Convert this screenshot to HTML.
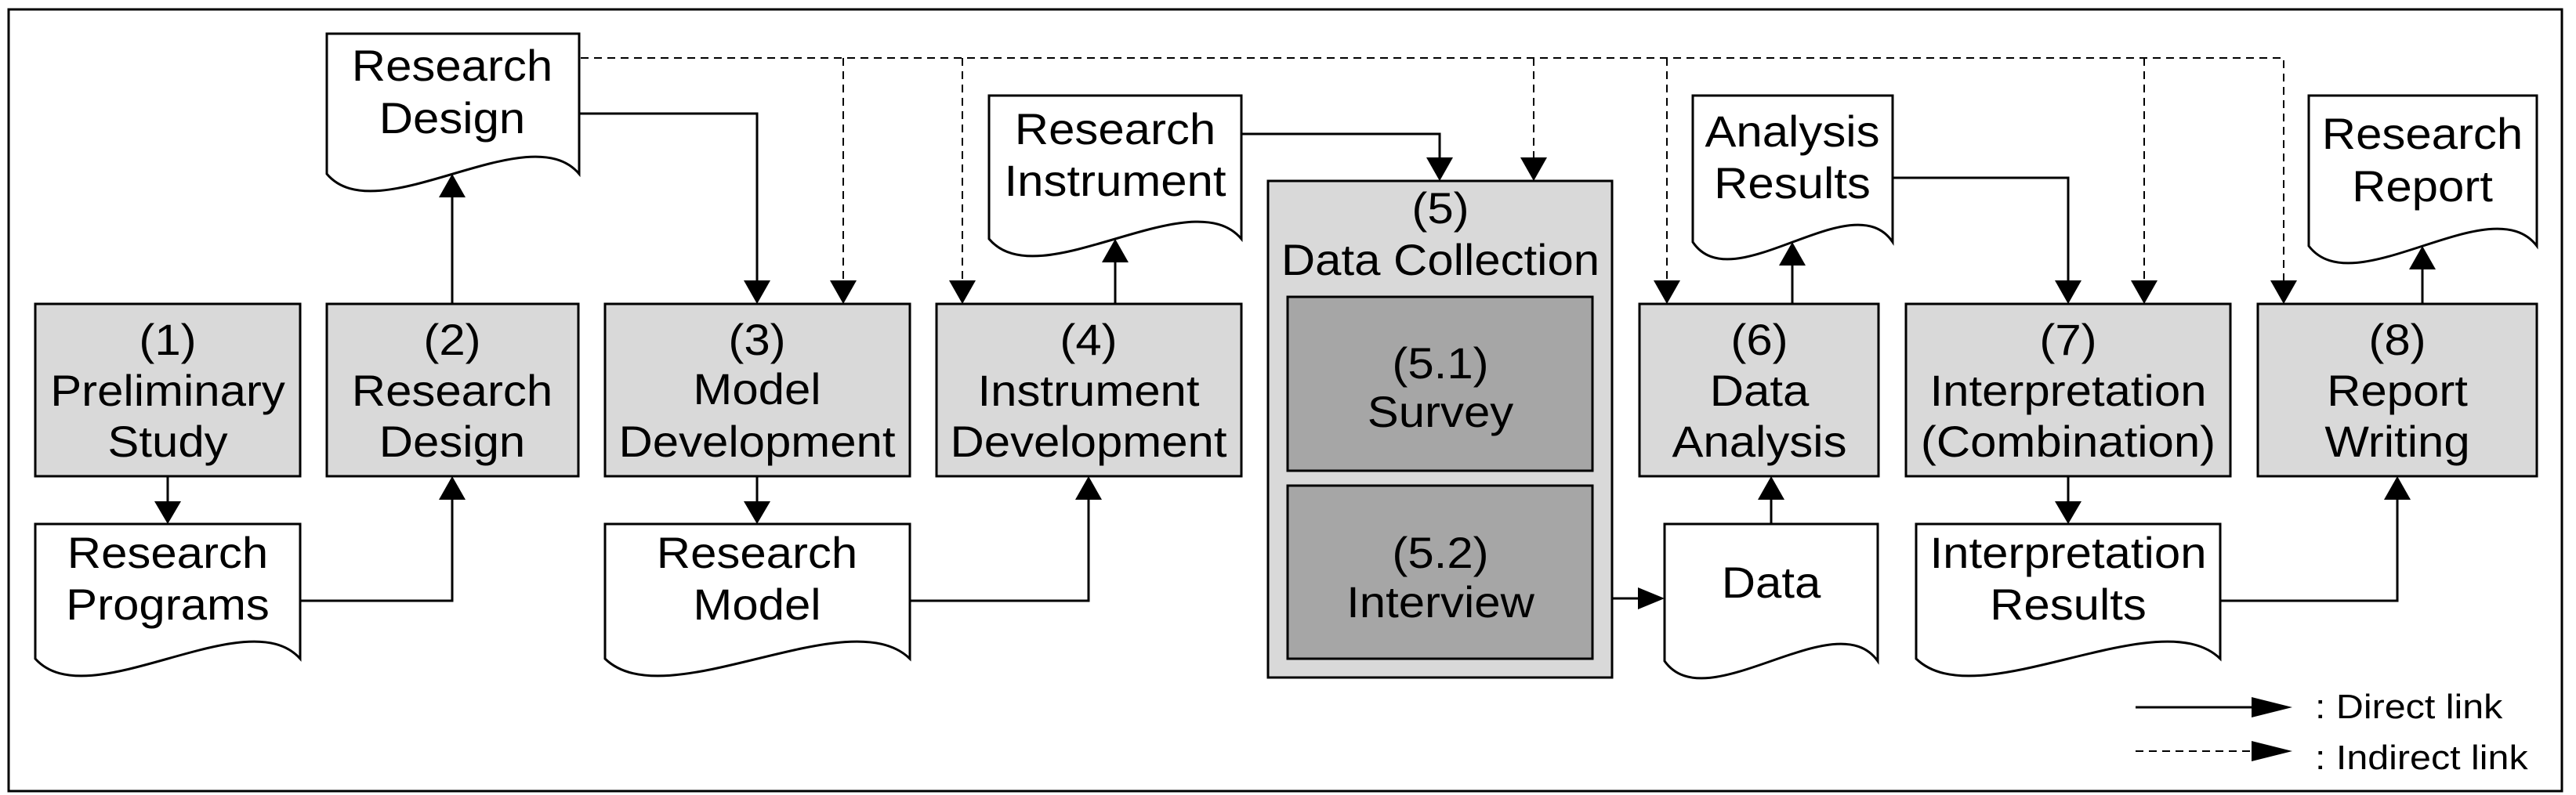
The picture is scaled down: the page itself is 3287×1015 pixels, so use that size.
<!DOCTYPE html>
<html><head><meta charset="utf-8"><style>
html,body{margin:0;padding:0;background:#fff}
svg{display:block}
text{font-family:"Liberation Sans",Arial,sans-serif;font-size:56px;fill:#000;text-anchor:middle}
.lg{font-size:44px;text-anchor:start}
</style></head><body>
<svg width="3287" height="1015" viewBox="0 0 3287 1015" xmlns="http://www.w3.org/2000/svg">
<rect x="0" y="0" width="3287" height="1015" fill="#fff"/>
<rect x="11" y="12" width="3258" height="998" fill="none" stroke="#000" stroke-width="3"/>

<g stroke="#000" stroke-width="3">
<rect x="45" y="388" width="338" height="220" fill="#d9d9d9"/>
<rect x="417" y="388" width="321" height="220" fill="#d9d9d9"/>
<rect x="772" y="388" width="389" height="220" fill="#d9d9d9"/>
<rect x="1195" y="388" width="389" height="220" fill="#d9d9d9"/>
<rect x="1618" y="231" width="439" height="634" fill="#d9d9d9"/>
<rect x="1643" y="379" width="389" height="222" fill="#a6a6a6"/>
<rect x="1643" y="620" width="389" height="221" fill="#a6a6a6"/>
<rect x="2092" y="388" width="305" height="220" fill="#d9d9d9"/>
<rect x="2432" y="388" width="414" height="220" fill="#d9d9d9"/>
<rect x="2881" y="388" width="356" height="220" fill="#d9d9d9"/>
</g>

<g stroke="#000" stroke-width="3" fill="#fff">
<path d="M417 43 H739 V222 C675 146 481 298 417 222 Z"/>
<path d="M1262 122 H1584 V305 C1520 229 1326 381 1262 305 Z"/>
<path d="M45 669 H383 V841 C315 765 113 917 45 841 Z"/>
<path d="M772 669 H1161 V841 C1083 765 850 917 772 841 Z"/>
<path d="M2160 122 H2415 V309 C2364 233 2211 385 2160 309 Z"/>
<path d="M2124 669 H2396 V844 C2342 768 2178 920 2124 844 Z"/>
<path d="M2445 669 H2833 V841 C2755 765 2523 917 2445 841 Z"/>
<path d="M2946 122 H3237 V314 C3179 238 3004 390 2946 314 Z"/>
</g>

<g stroke="#000" stroke-width="3" fill="none">
<polyline points="214,608 214,640"/>
<polyline points="383,767 577,767 577,638"/>
<polyline points="577,388 577,252"/>
<polyline points="739,145 966,145 966,358"/>
<polyline points="966,608 966,640"/>
<polyline points="1161,767 1389,767 1389,638"/>
<polyline points="1423,388 1423,335"/>
<polyline points="1584,171 1837,171 1837,201"/>
<polyline points="2287,388 2287,339"/>
<polyline points="2260,669 2260,638"/>
<polyline points="2057,764 2090,764"/>
<polyline points="2415,227 2639,227 2639,358"/>
<polyline points="2639,608 2639,640"/>
<polyline points="2833,767 3059,767 3059,638"/>
<polyline points="3091,388 3091,344"/>
<line x1="2725" y1="903" x2="2880" y2="903"/>
</g>
<g stroke="#000" stroke-width="2" fill="none" stroke-dasharray="10,7">
<polyline points="741,74 2914,74 2914,358"/>
<line x1="1076" y1="74" x2="1076" y2="358"/>
<line x1="1228" y1="74" x2="1228" y2="358"/>
<line x1="1957" y1="74" x2="1957" y2="201"/>
<line x1="2127" y1="74" x2="2127" y2="358"/>
<line x1="2736" y1="74" x2="2736" y2="358"/>
<line x1="2725" y1="959" x2="2880" y2="959"/>
</g>
<g fill="#000">
<polygon points="197,640 231,640 214,669"/>
<polygon points="949,358 983,358 966,388"/>
<polygon points="1059,358 1093,358 1076,388"/>
<polygon points="1211,358 1245,358 1228,388"/>
<polygon points="949,640 983,640 966,669"/>
<polygon points="1820,201 1854,201 1837,231"/>
<polygon points="1940,201 1974,201 1957,231"/>
<polygon points="2110,358 2144,358 2127,388"/>
<polygon points="2622,358 2656,358 2639,388"/>
<polygon points="2719,358 2753,358 2736,388"/>
<polygon points="2897,358 2931,358 2914,388"/>
<polygon points="2622,640 2656,640 2639,669"/>
<polygon points="560,638 594,638 577,608"/>
<polygon points="560,252 594,252 577,222"/>
<polygon points="1372,638 1406,638 1389,608"/>
<polygon points="1406,335 1440,335 1423,305"/>
<polygon points="2270,339 2304,339 2287,309"/>
<polygon points="2243,638 2277,638 2260,608"/>
<polygon points="3042,638 3076,638 3059,608"/>
<polygon points="3074,344 3108,344 3091,314"/>
<polygon points="2090,750 2124,764 2090,778"/>
<polygon points="2873,890 2925,903 2873,916"/>
<polygon points="2873,946 2925,959 2873,972"/>
</g>

<g>
<text transform="translate(214,453) scale(1.07,1)">(1)</text>
<text transform="translate(214,518) scale(1.07,1)">Preliminary</text>
<text transform="translate(214,583) scale(1.07,1)">Study</text>

<text transform="translate(577,453) scale(1.07,1)">(2)</text>
<text transform="translate(577,518) scale(1.07,1)">Research</text>
<text transform="translate(577,583) scale(1.07,1)">Design</text>

<text transform="translate(966,453) scale(1.07,1)">(3)</text>
<text transform="translate(966,516) scale(1.07,1)">Model</text>
<text transform="translate(966,583) scale(1.07,1)">Development</text>

<text transform="translate(1389,453) scale(1.07,1)">(4)</text>
<text transform="translate(1389,518) scale(1.07,1)">Instrument</text>
<text transform="translate(1389,583) scale(1.07,1)">Development</text>

<text transform="translate(1838,285) scale(1.07,1)">(5)</text>
<text transform="translate(1838,351) scale(1.07,1)">Data Collection</text>
<text transform="translate(1838,483) scale(1.07,1)">(5.1)</text>
<text transform="translate(1838,545) scale(1.07,1)">Survey</text>
<text transform="translate(1838,725) scale(1.07,1)">(5.2)</text>
<text transform="translate(1838,788) scale(1.07,1)">Interview</text>

<text transform="translate(2245,453) scale(1.07,1)">(6)</text>
<text transform="translate(2245,518) scale(1.07,1)">Data</text>
<text transform="translate(2245,583) scale(1.07,1)">Analysis</text>

<text transform="translate(2639,453) scale(1.07,1)">(7)</text>
<text transform="translate(2639,518) scale(1.07,1)">Interpretation</text>
<text transform="translate(2639,583) scale(1.07,1)">(Combination)</text>

<text transform="translate(3059,453) scale(1.07,1)">(8)</text>
<text transform="translate(3059,518) scale(1.07,1)">Report</text>
<text transform="translate(3059,583) scale(1.07,1)">Writing</text>

<text transform="translate(577,103) scale(1.07,1)">Research</text>
<text transform="translate(577,170) scale(1.07,1)">Design</text>
<text transform="translate(1423,184) scale(1.07,1)">Research</text>
<text transform="translate(1423,250) scale(1.07,1)">Instrument</text>
<text transform="translate(214,725) scale(1.07,1)">Research</text>
<text transform="translate(214,791) scale(1.07,1)">Programs</text>
<text transform="translate(966,725) scale(1.07,1)">Research</text>
<text transform="translate(966,791) scale(1.07,1)">Model</text>
<text transform="translate(2287,187) scale(1.07,1)">Analysis</text>
<text transform="translate(2287,253) scale(1.07,1)">Results</text>
<text transform="translate(2260,763) scale(1.07,1)">Data</text>
<text transform="translate(2639,725) scale(1.07,1)">Interpretation</text>
<text transform="translate(2639,791) scale(1.07,1)">Results</text>
<text transform="translate(3091,190) scale(1.07,1)">Research</text>
<text transform="translate(3091,257) scale(1.07,1)">Report</text>

<text class="lg" transform="translate(2954,917) scale(1.1,1)">: Direct link</text>
<text class="lg" transform="translate(2954,982) scale(1.1,1)">: Indirect link</text>
</g>
</svg>
</body></html>
